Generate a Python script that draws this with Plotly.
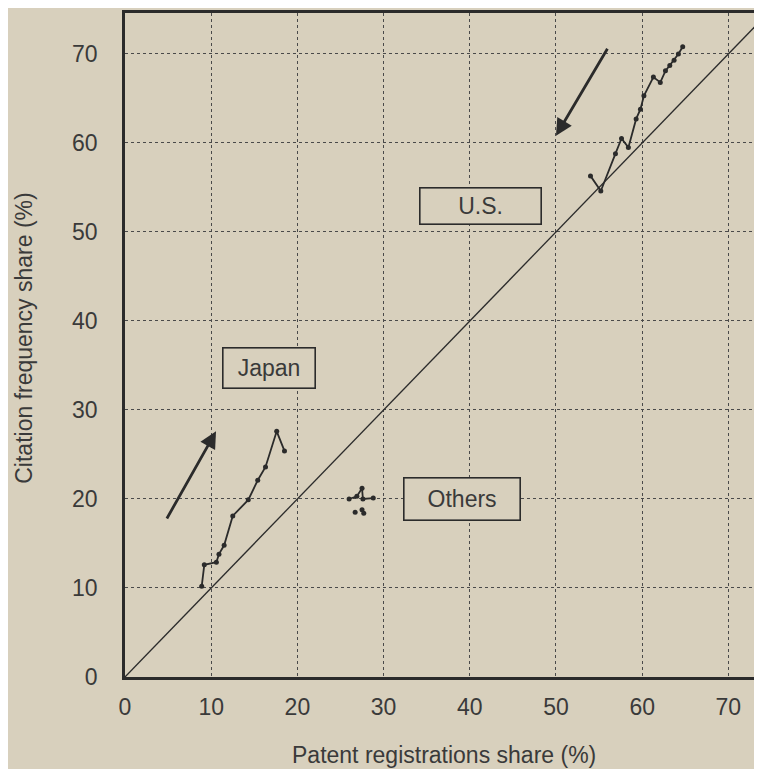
import plotly.graph_objects as go

BG = "#d8d0bd"
INK = "#2b2b2b"
TXT = "#3a3a3a"
FONT = "Liberation Sans, Arial, sans-serif"

# Japan trajectory (patent share %, citation share %)
japan_x = [8.9, 9.2, 10.6, 10.9, 11.5, 12.5, 14.3, 15.4, 16.3, 17.6, 18.5]
japan_y = [10.2, 12.6, 12.9, 13.8, 14.8, 18.1, 19.9, 22.1, 23.6, 27.6, 25.4]

# U.S. trajectory
us_x = [54.0, 55.2, 56.9, 57.6, 58.4, 59.3, 59.8, 60.2, 61.3, 62.1, 62.7, 63.2, 63.7, 64.2, 64.7]
us_y = [56.3, 54.6, 58.8, 60.5, 59.5, 62.7, 63.8, 65.3, 67.4, 66.8, 68.1, 68.7, 69.3, 70.0, 70.8]

# Others cluster
others_x = [26.0, 26.9, 27.5, 27.6, 28.8]
others_y = [20.0, 20.3, 21.2, 20.0, 20.1]
others_dot_x = [26.7, 27.5, 27.7]
others_dot_y = [18.5, 18.8, 18.4]

ticks = [0, 10, 20, 30, 40, 50, 60, 70]

fig = go.Figure()

# 45-degree reference line
fig.add_trace(go.Scatter(x=[0, 80], y=[0, 80], mode="lines",
                         line=dict(color=INK, width=1.3), showlegend=False, hoverinfo="skip"))

for xs, ys in [(japan_x, japan_y), (us_x, us_y), (others_x, others_y)]:
    fig.add_trace(go.Scatter(x=xs, y=ys, mode="lines+markers",
                             line=dict(color=INK, width=1.8),
                             marker=dict(color=INK, size=5), showlegend=False))
fig.add_trace(go.Scatter(x=others_dot_x, y=others_dot_y, mode="markers",
                         marker=dict(color=INK, size=5), showlegend=False))

# direction arrows
fig.add_annotation(x=10.56, y=27.6, ax=4.76, ay=17.64, xref="x", yref="y", axref="x", ayref="y",
                   text="", showarrow=True, arrowhead=2, arrowsize=1.2, arrowwidth=2.8,
                   arrowcolor=INK, standoff=0)
fig.add_annotation(x=50.0, y=60.8, ax=56.07, ay=70.75, xref="x", yref="y", axref="x", ayref="y",
                   text="", showarrow=True, arrowhead=2, arrowsize=1.2, arrowwidth=2.8,
                   arrowcolor=INK, standoff=0)

# boxed labels: text, x, y, box text width, box text height
for label, lx, ly, w, h in [("U.S.", 41.2, 52.9, 112, 27),
                            ("Japan", 16.7, 34.7, 83, 31),
                            ("Others", 39.1, 20.05, 107, 33)]:
    fig.add_annotation(x=lx, y=ly, text=label, showarrow=False,
                       font=dict(family=FONT, size=23, color=TXT),
                       bordercolor=INK, borderwidth=1.6, bgcolor=BG,
                       borderpad=4, width=w, height=h)

# axis titles
fig.add_annotation(x=37.0, y=0, xref="x", yref="paper", yshift=-78, yanchor="middle",
                   text="Patent registrations share (%)", showarrow=False,
                   font=dict(family=FONT, size=23, color=TXT))
fig.add_annotation(x=0, y=38.0, xref="paper", yref="y", xshift=-101, xanchor="center",
                   text="Citation frequency share (%)", showarrow=False, textangle=-90,
                   font=dict(family=FONT, size=23, color=TXT))

axis_common = dict(
    tickvals=ticks, showline=True, linecolor=INK, linewidth=2.6,
    showgrid=True, gridcolor="#4a4a4a", griddash="dot", gridwidth=1.2,
    zeroline=False, ticks="", tickfont=dict(family=FONT, size=23, color=TXT),
)

fig.update_xaxes(range=[0, 73.9], mirror=True, ticklabelstandoff=8, **axis_common)
fig.update_yaxes(range=[0, 74.6], ticklabelstandoff=20, **axis_common)

# page body adds an 8px offset, so the figure is 8px smaller than the window
fig.update_layout(
    width=754, height=761,
    paper_bgcolor=BG, plot_bgcolor=BG,
    margin=dict(l=117, r=0, t=5, b=92),
    font=dict(family=FONT, color=TXT),
)

fig.write_html("out.html")
